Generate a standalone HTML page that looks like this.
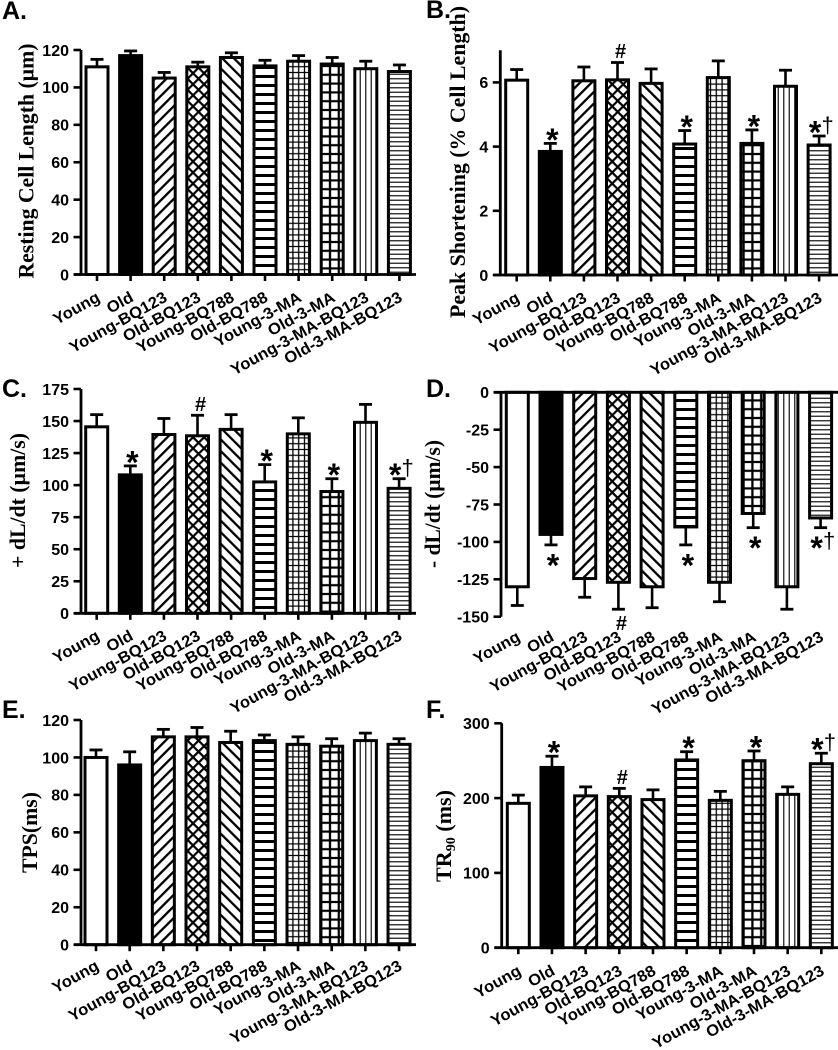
<!DOCTYPE html>
<html lang="en">
<head>
<meta charset="utf-8">
<title>Cardiomyocyte mechanics bar charts</title>
<style>
html,body{margin:0;padding:0;background:#fff;}
svg{display:block;filter:blur(0.3px);}
.tick-label{font:bold 16px "Liberation Sans",sans-serif;fill:#000;text-anchor:end;}
.cat-label{font:bold 16px "Liberation Sans",sans-serif;fill:#000;text-anchor:end;}
.y-title{font:bold 22px "Liberation Serif",serif;fill:#000;text-anchor:middle;}
.panel-letter{font:bold 25px "Liberation Sans",sans-serif;fill:#000;}
</style>
</head>
<body>
<svg id="figure" xmlns="http://www.w3.org/2000/svg" width="838" height="1050" viewBox="0 0 838 1050">
<defs>
<pattern id="p-up" patternUnits="userSpaceOnUse" width="8.2" height="8.2" patternTransform="rotate(45)"><rect width="8.2" height="8.2" fill="#fff"/><line x1="0" y1="0" x2="0" y2="8.2" stroke="#000" stroke-width="4.6"/></pattern>
<pattern id="p-down" patternUnits="userSpaceOnUse" width="8.2" height="8.2" patternTransform="rotate(-45)"><rect width="8.2" height="8.2" fill="#fff"/><line x1="0" y1="0" x2="0" y2="8.2" stroke="#000" stroke-width="4.6"/></pattern>
<pattern id="p-cross" patternUnits="userSpaceOnUse" width="7.8" height="7.8" patternTransform="rotate(45)"><rect width="7.8" height="7.8" fill="#fff"/><path d="M0 0V7.8M0 0H7.8" stroke="#000" stroke-width="4.4"/></pattern>
<pattern id="p-hthick" patternUnits="userSpaceOnUse" width="9" height="9"><rect width="9" height="9" fill="#fff"/><line x1="0" y1="4.5" x2="9" y2="4.5" stroke="#000" stroke-width="3"/></pattern>
<pattern id="p-gridfine" patternUnits="userSpaceOnUse" width="5.8" height="5.8"><rect width="5.8" height="5.8" fill="#fff"/><path d="M2.9 0V5.8M0 2.9H5.8" stroke="#000" stroke-width="1.3"/></pattern>
<pattern id="p-gridbig" patternUnits="userSpaceOnUse" width="8.8" height="8.8"><rect width="8.8" height="8.8" fill="#fff"/><path d="M4.4 0V8.8M0 4.4H8.8" stroke="#000" stroke-width="2.3"/></pattern>
<pattern id="p-vfine" patternUnits="userSpaceOnUse" width="5.5" height="5.5"><rect width="5.5" height="5.5" fill="#fff"/><line x1="2.75" y1="0" x2="2.75" y2="5.5" stroke="#222" stroke-width="1.3"/></pattern>
<pattern id="p-hfine" patternUnits="userSpaceOnUse" width="4.5" height="4.5"><rect width="4.5" height="4.5" fill="#fff"/><line x1="0" y1="2.25" x2="4.5" y2="2.25" stroke="#222" stroke-width="1.3"/></pattern>
</defs>

<g id="panel-a">
  <text class="panel-letter" x="2" y="19">A.</text>
  <text class="y-title" transform="translate(33.5,161) rotate(-90)" textLength="235" lengthAdjust="spacingAndGlyphs">Resting Cell Length (µm)</text>
</g>
<g id="panel-b">
  <text class="panel-letter" x="426" y="18">B.</text>
  <text class="y-title" transform="translate(465,162) rotate(-90)" textLength="312" lengthAdjust="spacingAndGlyphs">Peak Shortening (% Cell Length)</text>
</g>
<g id="panel-c">
  <text class="panel-letter" x="2" y="397">C.</text>
  <text class="y-title" transform="translate(25,500.5) rotate(-90)" textLength="135" lengthAdjust="spacingAndGlyphs">+ dL/dt (µm/s)</text>
</g>
<g id="panel-d">
  <text class="panel-letter" x="426" y="397">D.</text>
  <text class="y-title" transform="translate(440,504) rotate(-90)" textLength="128" lengthAdjust="spacingAndGlyphs">- dL/dt (µm/s)</text>
</g>
<g id="panel-e">
  <text class="panel-letter" x="2" y="718">E.</text>
  <text class="y-title" transform="translate(37,832.5) rotate(-90)" textLength="81" lengthAdjust="spacingAndGlyphs">TPS(ms)</text>
</g>
<g id="panel-f">
  <text class="panel-letter" x="426" y="718">F.</text>
  <text class="y-title" transform="translate(451,836) rotate(-90)" textLength="92" lengthAdjust="spacingAndGlyphs">TR<tspan font-size="14" dy="4">90</tspan><tspan dy="-4"> (ms)</tspan></text>
</g>
</svg>

<script>
// ---- chart data ----
const categories = ['Young','Old','Young-BQ123','Old-BQ123','Young-BQ788','Old-BQ788','Young-3-MA','Old-3-MA','Young-3-MA-BQ123','Old-3-MA-BQ123'];

const aValues = [111, 117, 105, 111, 116, 111.5, 114, 112.5, 110, 108.5];
const aErrors = [115, 119.5, 108, 113.5, 118.5, 114.5, 117, 116, 114, 112];
const aTicks  = [0, 20, 40, 60, 80, 100, 120];
const aMarks  = ['', '', '', '', '', '', '', '', '', ''];

const bValues = [6.07, 3.85, 6.05, 6.08, 5.97, 4.08, 6.15, 4.1, 5.88, 4.05];
const bErrors = [6.4, 4.1, 6.48, 6.62, 6.42, 4.5, 6.67, 4.52, 6.38, 4.33];
const bTicks  = [0, 2, 4, 6];
const bMarks  = ['', '*', '', '#', '', '*', '', '*', '', '*†'];

const cValues = [145.5, 108, 139.5, 138.5, 143.5, 102.5, 140, 95, 149, 97.5];
const cErrors = [155, 115, 152, 154.5, 155, 116, 152.5, 105, 163, 105];
const cTicks  = [0, 25, 50, 75, 100, 125, 150, 175];
const cMarks  = ['', '*', '', '#', '', '*', '', '*', '', '*†'];

const dValues = [-130, -95, -124.5, -127, -130, -90, -127, -81, -130, -84];
const dErrors = [-142.5, -102, -137, -145, -144, -102, -140, -90.5, -145, -90.5];
const dTicks  = [0, -25, -50, -75, -100, -125, -150];
const dMarks  = ['', '*', '', '#', '', '*', '', '*', '', '*†'];

const eValues = [100, 96, 111, 111, 108, 109, 107, 106, 109, 107];
const eErrors = [104, 103, 115, 116, 114, 112, 111, 110, 113, 110];
const eTicks  = [0, 20, 40, 60, 80, 100, 120];
const eMarks  = ['', '', '', '', '', '', '', '', '', ''];

const fValues = [193, 241, 203, 202, 198, 251, 197, 250, 205, 246];
const fErrors = [204, 256, 215, 213, 211, 262, 209, 263, 215, 260];
const fTicks  = [0, 100, 200, 300];
const fMarks  = ['', '*', '', '#', '', '*', '', '*', '', '*†'];

// ---- layout (independent of the data) ----
const fills = ['#fff', '#000', 'url(#p-up)', 'url(#p-cross)', 'url(#p-down)', 'url(#p-hthick)', 'url(#p-gridfine)', 'url(#p-gridbig)', 'url(#p-vfine)', 'url(#p-hfine)'];
const SVGNS = 'http://www.w3.org/2000/svg';

function mk(tag, attrs, parent, text) {
  const n = document.createElementNS(SVGNS, tag);
  for (const k in attrs) n.setAttribute(k, attrs[k]);
  if (text !== undefined) n.textContent = text;
  parent.appendChild(n);
  return n;
}
function slug(s) { return String(s).toLowerCase().replace(/[^a-z0-9]+/g, '-'); }

function drawPanel(p) {
  const root = document.getElementById('panel-' + p.id);
  const yScale = v => p.yZero + (v - 0) * p.pxPerUnit * -1;
  const xScale = i => p.x0 + i * p.step;
  const hang = p.ticks[p.ticks.length - 1] < 0;

  // bars and error bars
  p.values.forEach((v, i) => {
    const cx = xScale(i);
    const yv = yScale(v), ye = yScale(p.errors[i]);
    const stem = mk('line', {x1: cx, x2: cx, y1: yv, y2: ye, stroke: '#000', 'stroke-width': 2.6}, root);
    
    
    const cap = mk('line', {x1: cx - 6.5, x2: cx + 6.5, y1: ye, y2: ye, stroke: '#000', 'stroke-width': 2.8}, root);
    
    
    const bar = mk('rect', {
      x: cx - 11, width: 22,
      y: Math.min(yv, p.yZero), height: Math.abs(p.yZero - yv),
      fill: fills[i], stroke: '#000', 'stroke-width': 3
    }, root);
    
    
  });

  // y axis
  const yTopValue = p.axisEnd;
  const yAxis = mk('line', {x1: p.axisX, x2: p.axisX, y1: yScale(yTopValue), y2: yScale(0) + (hang ? 0 : 1), stroke: '#000', 'stroke-width': 2.8}, root);
  
  
  p.ticks.forEach(t => {
    const y = yScale(t);
    const tick = mk('line', {x1: p.axisX - 7.5, x2: p.axisX, y1: y, y2: y, stroke: '#000', 'stroke-width': 2.6}, root);
    
    
    const label = mk('text', {class: 'tick-label', x: p.axisX - 12, y: y + 5.8}, root, String(t));
    
    
  });

  // x axis
  const xAxis = mk('line', {x1: p.axisX - 7, x2: p.xEnd, y1: p.yZero, y2: p.yZero, stroke: '#000', 'stroke-width': 2.8}, root);
  
  
  categories.forEach((c, i) => {
    const cx = xScale(i);
    if (!hang) {
      const tick = mk('line', {x1: cx, x2: cx, y1: p.yZero, y2: p.yZero + 6.5, stroke: '#000', 'stroke-width': 2.6}, root);
      
      
    }
    const lx = cx + 4, ly = p.labelY - 2;
    const label = mk('text', {class: 'cat-label', x: 0, y: 0, transform: 'translate(' + lx + ' ' + ly + ') rotate(-29) scale(1.04 1)'}, root, c);
    
    
  });

  // significance marks
  p.marks.forEach((m, i) => {
    if (!m) return;
    const cx = xScale(i);
    const ye = yScale(p.errors[i]);
    if (m === '#') {
      const by = hang ? ye + 21 : ye - 4.5;
      const hash = mk('text', {x: cx + 3, y: by, 'text-anchor': 'middle', 'font-family': '"Liberation Sans",sans-serif', 'font-weight': 'bold', 'font-size': 20}, root, '#');
      
      
      return;
    }
    const centerY = hang ? ye + 14 : ye - 10;
    const dagger = m.length > 1;
    const sx = dagger ? cx - 4 : cx + 2;
    const star = mk('text', {x: sx, y: centerY + 17.5, 'text-anchor': 'middle', 'font-family': '"Liberation Sans",sans-serif', 'font-weight': 'bold', 'font-size': 32}, root, '*');
    
    
    if (dagger) {
      const dg = mk('text', {x: sx + 12.5, y: centerY + 6.5, 'text-anchor': 'middle', 'font-family': '"Liberation Sans",sans-serif', 'font-size': 22}, root, m.slice(1));
      
      
    }
  });
}

drawPanel({id: 'a', values: aValues, errors: aErrors, ticks: aTicks, marks: aMarks, axisEnd: 120, axisX: 81,    xEnd: 416, x0: 97,    step: 33.6, yZero: 274.5, pxPerUnit: 224.5 / 120, labelY: 302.5});
drawPanel({id: 'b', values: bValues, errors: bErrors, ticks: bTicks, marks: bMarks, axisEnd: 7,   axisX: 500.3, xEnd: 838, x0: 516.7, step: 33.6, yZero: 275,   pxPerUnit: 32.1,        labelY: 303});
drawPanel({id: 'c', values: cValues, errors: cErrors, ticks: cTicks, marks: cMarks, axisEnd: 175, axisX: 81,    xEnd: 416, x0: 96.7,  step: 33.6, yZero: 613.3, pxPerUnit: 224.3 / 175, labelY: 641});
drawPanel({id: 'd', values: dValues, errors: dErrors, ticks: dTicks, marks: dMarks, axisEnd: -150,axisX: 501,   xEnd: 838, x0: 517.3, step: 33.7, yZero: 392.3, pxPerUnit: 224.4 / 150, labelY: 642});
drawPanel({id: 'e', values: eValues, errors: eErrors, ticks: eTicks, marks: eMarks, axisEnd: 120, axisX: 81,    xEnd: 416, x0: 96,    step: 33.67,yZero: 944.7, pxPerUnit: 224.7 / 120, labelY: 971});
drawPanel({id: 'f', values: fValues, errors: fErrors, ticks: fTicks, marks: fMarks, axisEnd: 300, axisX: 501.7, xEnd: 838, x0: 518.3, step: 33.67,yZero: 947.7, pxPerUnit: 224.4 / 300, labelY: 976});
</script>
</body>
</html>
